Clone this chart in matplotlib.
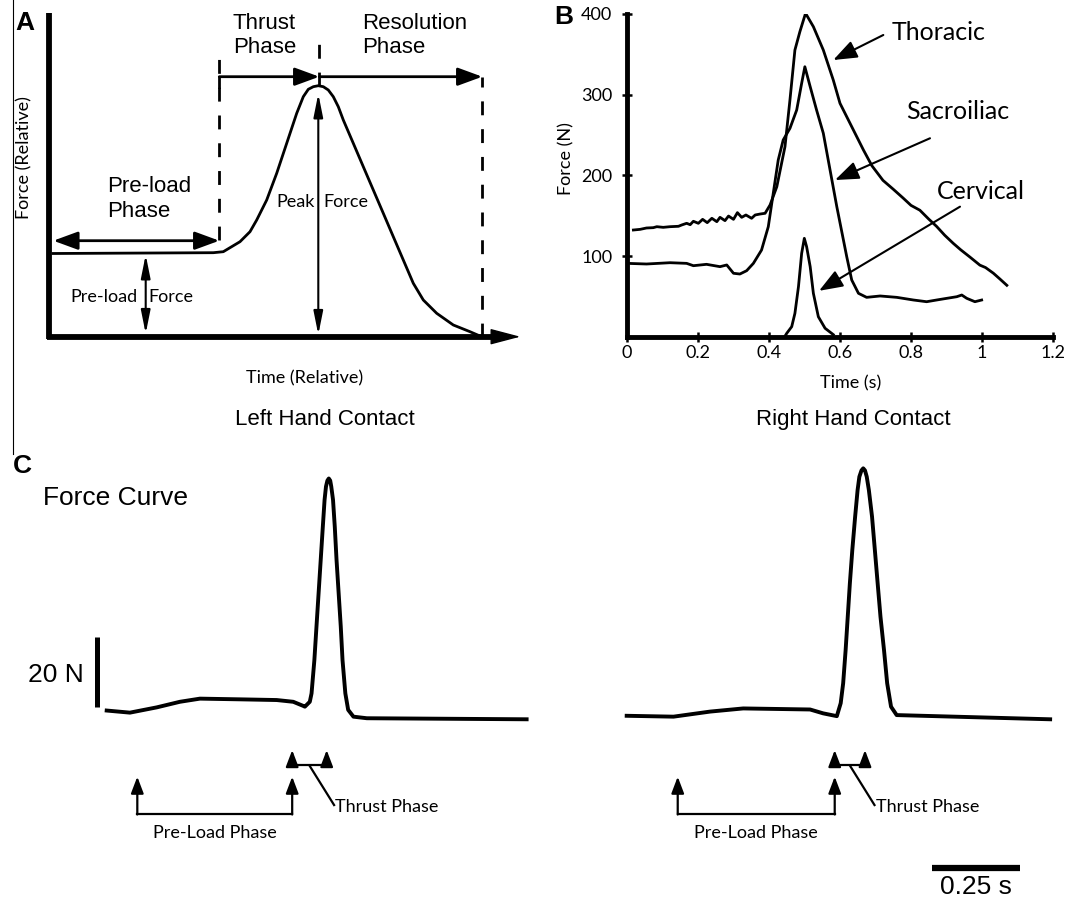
import matplotlib
matplotlib.use("Agg")
import matplotlib.pyplot as plt
from matplotlib.lines import Line2D

plt.rcParams['font.family'] = ['Lato', 'DejaVu Sans']
ARIAL = ['Liberation Sans', 'DejaVu Sans']

# ---------------- Panel A (schematic, relative units) ----------------
a_time = [3.7, 164, 174, 190.7, 200.7, 207.4, 217.4, 227.4, 237.4, 247.4, 254, 259, 264, 269,
          274, 279, 284, 289, 294, 304, 314, 324, 334, 344, 354, 364, 374, 387.4, 404, 420.7, 430.7]
a_force = [83.2, 84, 85, 95, 105, 116.7, 136.7, 163.4, 193.4, 223.4, 240, 247.4, 250, 251,
           250, 246.7, 240, 230, 216.7, 193.4, 170, 146.7, 123.4, 100, 76.7, 53.4, 36.7, 23.4, 11.7, 5, 0.7]
a_thrust_start = 170
a_peak_time = 270
a_resolution_end = 433
a_preload_force = 84
a_peak_force = 251

# ---------------- Panel B (right hand contact) ----------------
thoracic_t = [0.018, 0.037, 0.055, 0.074, 0.084, 0.102, 0.121, 0.145, 0.154, 0.168, 0.178, 0.187,
              0.201, 0.213, 0.226, 0.239, 0.253, 0.262, 0.276, 0.286, 0.300, 0.311, 0.323, 0.335,
              0.351, 0.361, 0.375, 0.389, 0.403, 0.422, 0.445, 0.459, 0.473, 0.487, 0.503, 0.525,
              0.553, 0.581, 0.600, 0.666, 0.690, 0.721, 0.750, 0.778, 0.800, 0.825, 0.850, 0.872,
              0.895, 0.919, 0.940, 0.966, 0.994, 1.010, 1.032, 1.050, 1.070]
thoracic_f = [132.5, 133.3, 135.0, 135.4, 136.6, 135.8, 136.6, 137.1, 138.7, 140.8, 139.1, 143.3,
              140.8, 145.7, 141.6, 147.0, 142.8, 148.2, 144.1, 149.8, 145.7, 154.0, 148.2, 151.1,
              147.0, 151.1, 152.3, 153.2, 163.5, 186.1, 235.7, 293.5, 355.4, 378.1, 400.9, 384.3,
              355.4, 318.3, 289.4, 231.6, 212, 194, 183, 172, 163, 157, 146, 137,
              126, 116, 108, 99, 89, 86, 79, 72, 64]
sacro_t = [0.0, 0.055, 0.121, 0.168, 0.187, 0.224, 0.262, 0.281, 0.300, 0.318, 0.337, 0.356,
           0.379, 0.398, 0.412, 0.426, 0.440, 0.459, 0.478, 0.492, 0.501, 0.516, 0.534, 0.553,
           0.572, 0.591, 0.619, 0.633, 0.652, 0.675, 0.713, 0.760, 0.807, 0.844, 0.872, 0.901,
           0.929, 0.943, 0.957, 0.980, 0.999]
sacro_f = [91.2, 90.4, 92.0, 91.2, 88.3, 90.0, 87.1, 89.2, 78.9, 78.0, 82.1, 91.2,
           107.7, 136.6, 178.0, 219.2, 244.0, 258.4, 281.1, 314.2, 334.7, 310.0, 281.1, 252.3,
           206.8, 161.4, 99.4, 70.6, 54.1, 49.1, 50.8, 49.1, 45.8, 43.7, 45.8, 47.9,
           49.9, 52.0, 47.9, 43.7, 45.8]
cerv_t = [0.445, 0.450, 0.464, 0.473, 0.483, 0.492, 0.4995, 0.506, 0.516, 0.525, 0.539, 0.558, 0.581]
cerv_f = [1, 4.6, 12.8, 29.3, 62.3, 103.6, 122.2, 111.8, 87.1, 54.1, 25.1, 10.8, 3]
b_xticks = [0, 0.2, 0.4, 0.6, 0.8, 1.0, 1.2]
b_xticklabels = ['0', '0.2', '0.4', '0.6', '0.8', '1', '1.2']
b_yticks = [100, 200, 300, 400]

# ---------------- Panel C (force curves, s / N) ----------------
c_left_t = [0, 0.066, 0.142, 0.208, 0.265, 0.379, 0.483, 0.530, 0.559, 0.563, 0.577, 0.582,
            0.590, 0.596, 0.602, 0.608, 0.614, 0.619, 0.623, 0.627, 0.631, 0.635, 0.638, 0.643,
            0.648, 0.653, 0.659, 0.665, 0.670, 0.678, 0.686, 0.701, 0.739, 1.193]
c_left_f = [2.7, 2.1, 3.6, 5.2, 6.1, 5.9, 5.7, 5.2, 4.0, 3.8, 5.2, 7.6,
            17.1, 26.7, 36.2, 45.7, 55.2, 62.9, 66.7, 68.4, 69.0, 68.4, 66.7, 62.9,
            55.2, 45.7, 36.2, 26.7, 17.1, 7.6, 2.9, 0.95, 0.5, 0.2]
c_right_t = [0, 0.133, 0.237, 0.331, 0.521, 0.558, 0.597, 0.608, 0.615, 0.622, 0.628, 0.634,
             0.641, 0.649, 0.656, 0.661, 0.667, 0.672, 0.677, 0.682, 0.688, 0.697, 0.705, 0.713,
             0.721, 0.731, 0.740, 0.751, 0.767, 1.203]
c_right_f = [1.2, 0.95, 2.4, 3.3, 3.0, 1.9, 1.1, 4.8, 10.5, 20, 29.5, 39,
             48.6, 58.1, 65.7, 69.5, 71.3, 71.9, 71.3, 69.5, 65.7, 58.1, 48.6, 39,
             29.5, 20, 10.5, 3.8, 1.4, 0.2]
c_left_phases = (0.087, 0.527, 0.625)    # pre-load start, thrust start, peak
c_right_phases = (0.145, 0.591, 0.677)
scale_force = 20      # N
scale_time = 0.25     # s

W, H = 1067, 905
fig = plt.figure(figsize=(W / 100, H / 100), dpi=100)


def rect(x0, y0, x1, y1):
    return [x0 / W, 1 - y1 / H, (x1 - x0) / W, (y1 - y0) / H]


def ftext(x, y, s, **kw):
    fig.text(x / W, 1 - y / H, s, **kw)


def arrow(ax, p_from, p_to, style, hl, hw, lw, ms=10):
    ax.annotate('', xy=p_to, xytext=p_from,
                arrowprops=dict(arrowstyle=f'{style},head_length={hl},head_width={hw}',
                                lw=lw, color='k', shrinkA=0, shrinkB=0, mutation_scale=ms),
                annotation_clip=False)


# ======================= Panel A =======================
axA = fig.add_axes(rect(49.3, 12.7, 520.3, 336.7))
axA.set_xlim(0, 471)
axA.set_ylim(0, 324)
axA.axis('off')
axA.plot(a_time, a_force, color='k', lw=2, clip_on=False)
axA.plot([0, 0], [-2, 324], color='k', lw=4.2, solid_capstyle='butt', clip_on=False)
axA.plot([-2.2, 446], [0, 0], color='k', lw=4.2, solid_capstyle='butt', clip_on=False)
arrow(axA, (440, 0), (471, 0), '-|>', 1.9, 0.5, 1)

dash = (0, (5, 5))
axA.plot([a_thrust_start] * 2, [96.7, 290], ls=dash, color='k', lw=2)
axA.plot([a_thrust_start] * 2, [250, 260], color='k', lw=2)
axA.plot([a_peak_time] * 2, [a_peak_force, 305], ls=dash, color='k', lw=2)
axA.plot([a_resolution_end] * 2, [0, 260], ls=dash, color='k', lw=2)
arrow(axA, (a_thrust_start, 260), (a_peak_time, 260), '-|>', 1.5, 0.55, 2)
arrow(axA, (a_peak_time, 260), (a_resolution_end, 260), '-|>', 1.5, 0.55, 2)
arrow(axA, (4, 96), (a_thrust_start, 96), '<|-|>', 1.5, 0.55, 2)
arrow(axA, (96.4, 3), (96.4, a_preload_force - 2), '<|-|>', 1.4, 0.28, 1.5)
arrow(axA, (a_peak_time - 1, 2), (a_peak_time - 1, a_peak_force - 8), '<|-|>', 1.4, 0.28, 1.5)

axA.text(183.7, 301, 'Thrust\nPhase', ha='left', va='center', size=16, family=ARIAL)
axA.text(312.4, 301, 'Resolution\nPhase', ha='left', va='center', size=16, family=ARIAL)
axA.text(57.7, 137.7, 'Pre-load\nPhase', ha='left', va='center', size=16, family=ARIAL)
axA.text(265.7, 135, 'Peak', ha='right', va='center', size=13)
axA.text(273.7, 135, 'Force', ha='left', va='center', size=13)
axA.text(88.7, 40, 'Pre-load', ha='right', va='center', size=13)
axA.text(98.7, 40, 'Force', ha='left', va='center', size=13)

ftext(24, 157.5, 'Force (Relative)', rotation=90, ha='center', va='center', size=13)
ftext(305, 378, 'Time (Relative)', ha='center', va='center', size=13)
ftext(325, 419, 'Left Hand Contact', ha='center', va='center', size=16, family=ARIAL)

# ======================= Panel B =======================
axB = fig.add_axes(rect(627, 14, 1053, 337))
axB.set_xlim(0, 1.2)
axB.set_ylim(0, 400)
for s in ['top', 'right']:
    axB.spines[s].set_visible(False)
for s in ['left', 'bottom']:
    axB.spines[s].set_linewidth(3.5)
axB.set_xticks(b_xticks)
axB.set_xticklabels(b_xticklabels)
axB.set_yticks(b_yticks)
axB.tick_params(direction='inout', length=7, width=1.8, labelsize=13)
axB.tick_params(axis='x', pad=2)
axB.tick_params(axis='y', pad=7)
axB.plot(thoracic_t, thoracic_f, color='k', lw=2)
axB.plot(sacro_t, sacro_f, color='k', lw=2)
axB.plot(cerv_t, cerv_f, color='k', lw=2)

arrow(axB, (0.722, 374), (0.581, 343), '-|>', 1.45, 0.55, 1.5)
arrow(axB, (0.8535, 246.1), (0.586, 194.4), '-|>', 1.45, 0.55, 1.5)
arrow(axB, (0.938, 161.4), (0.541, 57.2), '-|>', 1.45, 0.55, 1.5)
axB.text(0.7456, 377.7, 'Thoracic', ha='left', va='center', size=18)
axB.text(0.786, 279, 'Sacroiliac', ha='left', va='center', size=18)
axB.text(0.872, 180, 'Cervical', ha='left', va='center', size=18)

ftext(566, 158.3, 'Force (N)', rotation=90, ha='center', va='center', size=13)
ftext(851, 383.3, 'Time (s)', ha='center', va='center', size=13)
ftext(853, 419, 'Right Hand Contact', ha='center', va='center', size=16, family=ARIAL)

# ======================= Panel C =======================
def phases(ax, p0, ts, pk):
    hl, hw = 1.0, 0.38
    arrow(ax, (p0, -27), (p0, -16.2), '-|>', hl, hw, 1.6)
    arrow(ax, (ts, -27), (ts, -16.2), '-|>', hl, hw, 1.6)
    ax.plot([p0, ts], [-27, -27], color='k', lw=1.6, solid_capstyle='projecting')
    arrow(ax, (ts, -13), (ts, -8.6), '-|>', hl, hw, 1.6)
    arrow(ax, (pk, -13), (pk, -8.6), '-|>', hl, hw, 1.6)
    ax.plot([ts, pk], [-13, -13], color='k', lw=1.6, solid_capstyle='projecting')
    mid = (ts + pk) / 2
    ax.plot([mid, mid + 0.07], [-13, -24.3], color='k', lw=1.6)
    ax.text(mid + 0.073, -24.8, 'Thrust Phase', ha='left', va='center', size=13)
    ax.text((p0 + ts) / 2, -32.4, 'Pre-Load Phase', ha='center', va='center', size=13)


axCL = fig.add_axes(rect(90, 455, 540, 905))
axCR = fig.add_axes(rect(610, 455, 1060, 905))
for ax in (axCL, axCR):
    ax.set_xlim(-0.0474, 1.231)
    ax.set_ylim(-52.86, 75.71)
    ax.axis('off')

axCL.plot(c_left_t, c_left_f, color='k', lw=2.8, solid_joinstyle='round')
axCR.plot(c_right_t, c_right_f, color='k', lw=2.8, solid_joinstyle='round')
phases(axCL, *c_left_phases)
phases(axCR, *c_right_phases)

axCL.plot([-0.028, -0.028], [3.8, 3.8 + scale_force], color='k', lw=3.6, solid_capstyle='butt', clip_on=False)
axCL.text(-0.064, 12.9, '20 N', ha='right', va='center', size=19, family=ARIAL)
axCR.plot([0.866, 0.866 + scale_time], [-42.2, -42.2], color='k', lw=4.5, solid_capstyle='butt')
axCR.text(0.991, -47.6, '0.25 s', ha='center', va='center', size=19, family=ARIAL)

ftext(43, 498, 'Force Curve', ha='left', va='center', size=19, family=ARIAL)

# panel letters and thin left rule
ftext(25, 22.5, 'A', ha='center', va='center', size=19, weight='bold', family=ARIAL)
ftext(563.5, 17.5, 'B', ha='center', va='center', size=19, weight='bold', family=ARIAL)
ftext(22, 466, 'C', ha='center', va='center', size=19, weight='bold', family=ARIAL)
fig.add_artist(Line2D([13.3 / W] * 2, [1, 1 - 454 / H], transform=fig.transFigure, lw=0.8, color='k'))

fig.savefig('out.png', dpi=100)
